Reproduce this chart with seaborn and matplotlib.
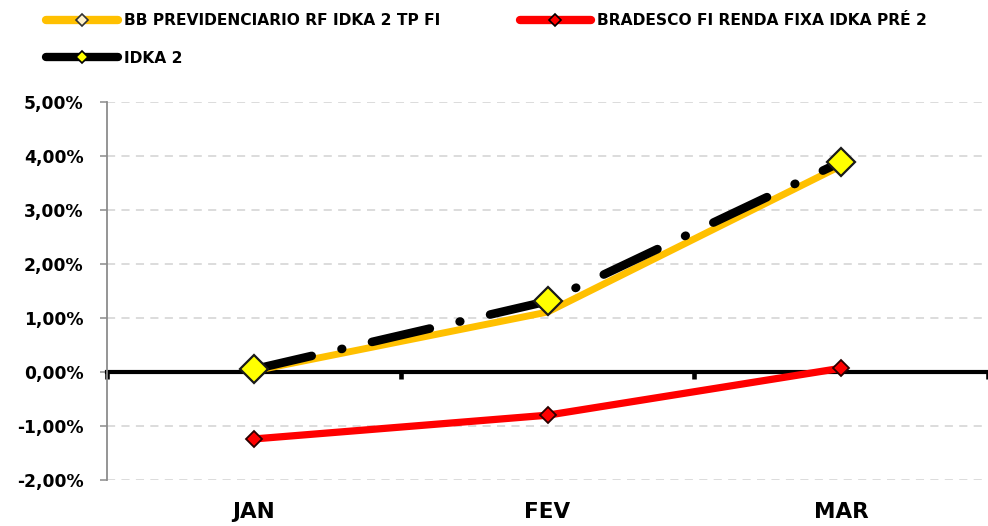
import numpy as np
import pandas as pd
import matplotlib
matplotlib.use("Agg")
import matplotlib.pyplot as plt
import seaborn as sns
from matplotlib.lines import Line2D
from matplotlib.ticker import FuncFormatter, FixedLocator

meses = ["JAN", "FEV", "MAR"]
bb = [0.02, 1.11, 3.82]
bradesco = [-1.24, -0.80, 0.07]
idka = [0.05, 1.31, 3.89]
nomes = ["BB PREVIDENCIARIO RF IDKA 2 TP FI", "BRADESCO FI RENDA FIXA IDKA PRÉ 2", "IDKA 2"]
y_ticks = [-2, -1, 0, 1, 2, 3, 4, 5]

sns.set_theme(style="white")
plt.rcParams["font.family"] = ["DejaVu Sans"]
plt.rcParams["font.weight"] = "bold"
plt.rcParams["text.color"] = "black"
plt.rcParams["xtick.labelcolor"] = "black"
plt.rcParams["ytick.labelcolor"] = "black"

C_BB = "#FFC000"
C_BR = "#FF0000"
C_ID = "#000000"

x = np.arange(len(meses))

fig = plt.figure(figsize=(9.88, 5.26), dpi=100)
ax = fig.add_axes([107 / 988, 46 / 526, 881 / 988, 378 / 526])

# gridlines
for v in y_ticks:
    if v != 0:
        ax.axhline(v, color="#D9D9D9", lw=1.3, ls=(0, (4.5, 3.5)), zorder=0)

sns.lineplot(x=x, y=bb, sort=False, estimator=None, color=C_BB, lw=5,
             solid_capstyle="round", solid_joinstyle="round", ax=ax, zorder=3)
sns.lineplot(x=x, y=bradesco, sort=False, estimator=None, color=C_BR, lw=5.2,
             solid_capstyle="round", solid_joinstyle="round", ax=ax, zorder=3)
sns.lineplot(x=x, y=idka, sort=False, estimator=None, color=C_ID, lw=6.2,
             linestyle=(0, (6.9, 3.55, 0.08, 3.55)), dash_capstyle="round", ax=ax, zorder=4)

# markers
ax.plot(x, bradesco, ls="none", marker="D", ms=8.5, mfc=C_BR, mec="#2A0000", mew=1.3, zorder=5)
ax.plot(x, idka, ls="none", marker="D", ms=14, mfc="#FFFF00", mec="#1A1A1A", mew=1.6, zorder=6)

ax.set_xlim(-0.5, 2.5)
ax.set_ylim(-2, 5)
ax.set_xlabel("")
ax.set_ylabel("")

# y axis
ax.yaxis.set_major_locator(FixedLocator(y_ticks))
ax.yaxis.set_major_formatter(FuncFormatter(lambda v, p: f"{v:.2f}%".replace(".", ",")))
ax.tick_params(axis="y", direction="out", length=5, width=1.1, color="#8C8C8C",
               labelsize=12.3, pad=12, left=True, labelcolor="black")
for lab in ax.get_yticklabels():
    lab.set_fontweight("bold")
ax.spines["left"].set_color("#8C8C8C")
ax.spines["left"].set_linewidth(1.3)
ax.spines["right"].set_visible(False)
ax.spines["top"].set_visible(False)

# x axis at zero
ax.spines["bottom"].set_position(("data", 0))
ax.spines["bottom"].set_color("black")
ax.spines["bottom"].set_linewidth(3)
ax.spines["bottom"].set_zorder(2)
ax.set_xticks([-0.5, 0.5, 1.5, 2.5])
ax.set_xticklabels([])
ax.tick_params(axis="x", direction="out", length=5, width=3.3, color="black", bottom=True)

sec = ax.secondary_xaxis("bottom")
sec.set_xticks(x, labels=meses)
sec.tick_params(length=0, pad=16, labelsize=15.5, labelcolor="black")
for lab in sec.get_xticklabels():
    lab.set_fontweight("bold")
sec.spines["bottom"].set_visible(False)

# legend
h_bb = Line2D([], [], color=C_BB, lw=6, solid_capstyle="round", marker="D", ms=6,
              mfc="#FFF2CC", mec="#333333", mew=1.2)
h_id = Line2D([], [], color=C_ID, lw=6, solid_capstyle="round", marker="D", ms=6,
              mfc="#FFFF00", mec="black", mew=1.2)
h_br = Line2D([], [], color=C_BR, lw=6, solid_capstyle="round", marker="D", ms=6,
              mfc=C_BR, mec="black", mew=1.2)
fig.legend([h_bb, h_id, h_br], [nomes[0], nomes[2], nomes[1]], ncol=2,
           loc="upper left", bbox_to_anchor=(40 / 988, 1 - 7 / 526), frameon=False,
           prop={"weight": "bold", "size": 11.2}, handlelength=4.6, handletextpad=0.4,
           labelspacing=1.45, columnspacing=5.1, borderaxespad=0, numpoints=1)

fig.savefig("out.png", dpi=100)
